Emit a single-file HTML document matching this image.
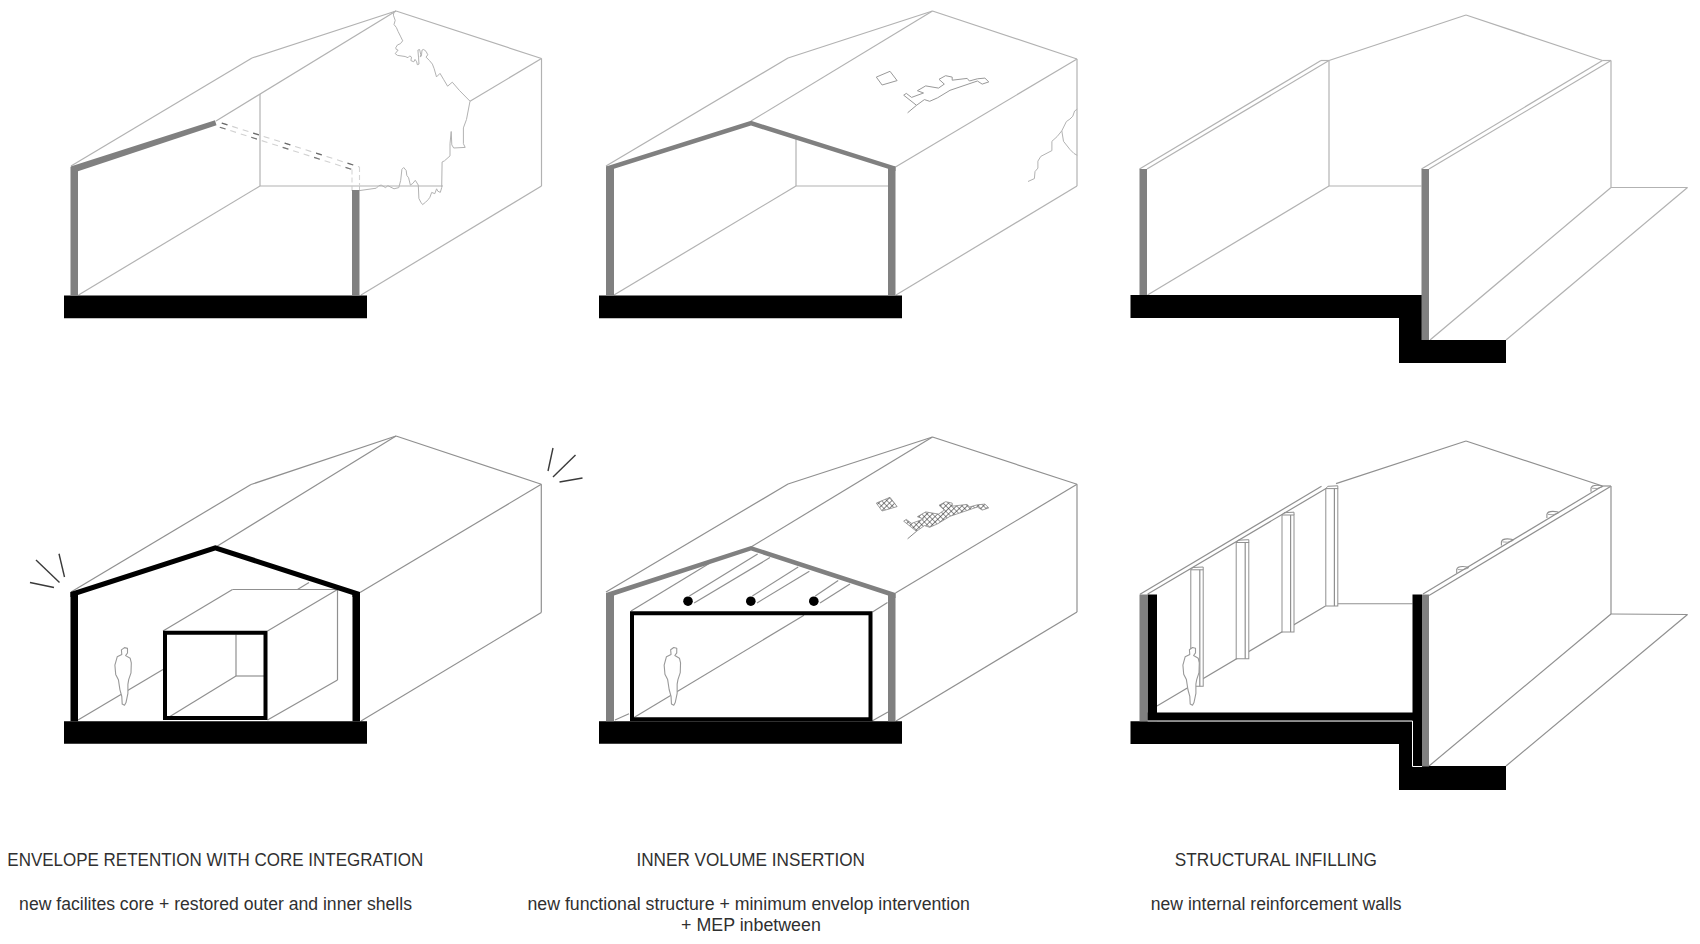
<!DOCTYPE html>
<html><head><meta charset="utf-8"><title>diagram</title>
<style>
html,body{margin:0;padding:0;background:#fff;width:1700px;height:944px;overflow:hidden}
svg{display:block}
.t{font-family:"Liberation Sans",sans-serif;font-size:17.5px;fill:#303030}
</style></head><body>
<svg width="1700" height="944" viewBox="0 0 1700 944">
<defs>
<pattern id="hatch" width="3.8" height="3.8" patternUnits="userSpaceOnUse" patternTransform="rotate(45)">
<path d="M0,0 L3.8,0 M0,0 L0,3.8" stroke="#2a2a2a" stroke-width="1.15" fill="none"/>
</pattern>
</defs>
<rect width="1700" height="944" fill="#fff"/>
<line x1="71" y1="166" x2="252" y2="58" stroke="#b2b2b2" stroke-width="1.2" />
<line x1="252" y1="58" x2="396" y2="11" stroke="#b2b2b2" stroke-width="1.2" />
<line x1="216" y1="121" x2="396" y2="11" stroke="#b2b2b2" stroke-width="1.2" />
<line x1="396" y1="11" x2="541.5" y2="58.5" stroke="#b2b2b2" stroke-width="1.2" />
<line x1="541.5" y1="58.5" x2="541.5" y2="186" stroke="#b2b2b2" stroke-width="1.2" />
<line x1="541.5" y1="186" x2="361" y2="295" stroke="#b2b2b2" stroke-width="1.2" />
<line x1="541.5" y1="58.5" x2="470" y2="101.25" stroke="#b2b2b2" stroke-width="1.2" />
<line x1="260" y1="94" x2="260" y2="186" stroke="#b2b2b2" stroke-width="1.2" />
<line x1="260" y1="186" x2="443" y2="186" stroke="#b2b2b2" stroke-width="1.2" />
<line x1="78.5" y1="295" x2="260" y2="186" stroke="#b2b2b2" stroke-width="1.2" />
<polyline points="396,11 394.0,11.7 393.4,15.2 395.2,20.4 394.0,24.5 396.3,27.4 398.1,31.5 400.4,36.1 402.7,40.8 400.4,43.7 397.5,44.9 395.7,47.8 396.3,49.5 398.1,50.1 395.2,53.6 397.5,55.4 401.0,55.9 405.1,56.5 408.0,57.7 409.7,55.9 411.5,57.1 410.9,60.6 413.8,61.8 415.0,59.4 416.7,61.8 417.3,64.7 419.0,64.1 418.5,57.1 417.9,50.1 419.6,49.5 420.8,54.8 420.2,57.1 421.4,55.9 422.0,50.1 423.7,49.5 426.0,51.3 427.8,54.8 426.0,57.1 429.5,60.6 432.4,64.1 434.2,68.8 436.5,76.9 440.0,73.4 443.5,79.3 447.6,86.2 452.3,82.2 459.3,90.3 470,101.2 466.5,119.4 463.4,127.9 463.4,143.7 465.2,147.4 453.7,148 451.8,144.9 451.2,131.5 450,143.7 450,155.9 444.5,160.8 442.1,162 441.7,187.6 440.3,192.4 437.8,191.2 436.6,188.8 434.8,193.7 431.7,192.4 429.9,197.3 428.1,199.7 425.6,202.2 422.6,204.6 420.8,202.2 418.9,198.5 418.3,185.1 415.3,180.3 412.9,183.3 410.4,185.1 408.6,177.8 406.8,175.4 406.2,170.5 403.7,167.5 401.9,169.3 400.7,180.3 398.8,187.6 394,188.8 387.9,185.7 385.5,187.6 381.2,185.1 378.8,185.7 376.3,188.2 359.3,190.6" fill="none" stroke="#b2b2b2" stroke-width="1.0" stroke-linejoin="round"/>
<line x1="217" y1="121.5" x2="359.5" y2="167" stroke="#cfcfcf" stroke-width="1.1" stroke-dasharray="6,5" stroke-dashoffset="-5"/>
<line x1="217" y1="121.5" x2="359.5" y2="167" stroke="#6a6a6a" stroke-width="1.3" stroke-dasharray="6,27" stroke-dashoffset="-5"/>
<line x1="216" y1="126" x2="352" y2="169.5" stroke="#d2d2d2" stroke-width="1.1" stroke-dasharray="6,5" stroke-dashoffset="-4"/>
<line x1="216" y1="126" x2="352" y2="169.5" stroke="#777" stroke-width="1.2" stroke-dasharray="6,27" stroke-dashoffset="-4"/>
<line x1="359.5" y1="167" x2="359.5" y2="186" stroke="#d5d5d5" stroke-width="1.1" stroke-dasharray="5,3"/>
<line x1="352" y1="169.5" x2="352" y2="186" stroke="#d5d5d5" stroke-width="1.1" stroke-dasharray="5,3"/>
<line x1="352" y1="186" x2="352" y2="191" stroke="#c8c8c8" stroke-width="1" />
<line x1="359.5" y1="186" x2="359.5" y2="191" stroke="#c8c8c8" stroke-width="1" />
<rect x="64" y="295.5" width="303" height="22.75" fill="#000"/>
<rect x="70.5" y="167" width="7.5" height="128.5" fill="#808080"/>
<rect x="352" y="190" width="7.5" height="105.5" fill="#808080"/>
<polygon points="70.5,166.5 215,120.3 216.5,125.3 78,171.2" fill="#808080"/>
<line x1="606" y1="166" x2="788" y2="58" stroke="#b2b2b2" stroke-width="1.2" />
<line x1="788" y1="58" x2="932.5" y2="11" stroke="#b2b2b2" stroke-width="1.2" />
<line x1="751" y1="121" x2="932.5" y2="11" stroke="#b2b2b2" stroke-width="1.2" />
<line x1="932.5" y1="11" x2="1077" y2="59" stroke="#b2b2b2" stroke-width="1.2" />
<line x1="1077" y1="59" x2="1077" y2="186" stroke="#b2b2b2" stroke-width="1.2" />
<line x1="1077" y1="186" x2="896" y2="295" stroke="#b2b2b2" stroke-width="1.2" />
<line x1="895.5" y1="167" x2="1077" y2="59" stroke="#b2b2b2" stroke-width="1.2" />
<line x1="796" y1="139" x2="796" y2="186" stroke="#b2b2b2" stroke-width="1.2" />
<line x1="796" y1="186" x2="888" y2="186" stroke="#b2b2b2" stroke-width="1.2" />
<line x1="614" y1="295" x2="796" y2="186" stroke="#b2b2b2" stroke-width="1.2" />
<polygon points="876.3,77.1 890,71.3 897.1,80.6 882.1,85" fill="none" stroke="#999" stroke-width="1" />
<polyline points="903.7,95.2 906.3,93.4 911.6,97.4 923.5,93 917.4,90.7 925.7,85.9 938.5,88.1 944.3,84.1 939,79.3 945.6,75.7 952.2,77.1 952.2,80.2 967.2,78.4 969.4,81 977.4,78.8 984.9,78.1 988.8,81.9 982.2,84.1 977.4,81 950,90.3 937.6,97.8 929.7,101.3 924.4,99.6 916.5,105.3 907.6,112.8" fill="none" stroke="#999" stroke-width="1" stroke-linejoin="round"/>
<line x1="903.7" y1="95.2" x2="916.5" y2="105.3" stroke="#999" stroke-width="1" />
<polyline points="1077.2,109.2 1074.6,111 1072.8,116.2 1069.9,119.1 1066.4,121.5 1061.8,130.8 1057.1,136.6 1051.9,141.3 1051.9,150.6 1040.8,156.4 1037.9,161.1 1037.9,168.1 1035,171.6 1034.4,178.6 1028,181.5" fill="none" stroke="#b2b2b2" stroke-width="1" stroke-linejoin="round"/>
<polyline points="1061.8,130.8 1063.5,141.3 1069.9,149.4 1074,153.5 1077.2,155.3" fill="none" stroke="#b2b2b2" stroke-width="1" />
<rect x="599" y="295.5" width="303" height="22.75" fill="#000"/>
<rect x="606" y="166.5" width="8" height="129" fill="#808080"/>
<rect x="888" y="166.5" width="7.5" height="129" fill="#808080"/>
<polygon points="606,166.5 751,120.8 895.5,166.5 895.5,171 888,171 888,168.8 751,125.6 614,168.8 614,171 606,171" fill="#808080"/>
<line x1="1139.5" y1="169" x2="1321" y2="60.5" stroke="#b2b2b2" stroke-width="1.2" />
<line x1="1147" y1="169" x2="1329" y2="60.5" stroke="#b2b2b2" stroke-width="1.2" />
<line x1="1321" y1="60.5" x2="1329" y2="60.5" stroke="#b2b2b2" stroke-width="1.2" />
<line x1="1329" y1="60.5" x2="1466" y2="15" stroke="#b2b2b2" stroke-width="1.2" />
<line x1="1466" y1="15" x2="1602.5" y2="60.5" stroke="#b2b2b2" stroke-width="1.2" />
<line x1="1602.5" y1="60.5" x2="1611" y2="60.5" stroke="#b2b2b2" stroke-width="1.2" />
<line x1="1421.5" y1="169" x2="1602.5" y2="60.5" stroke="#b2b2b2" stroke-width="1.2" />
<line x1="1429" y1="169" x2="1611" y2="60.5" stroke="#b2b2b2" stroke-width="1.2" />
<line x1="1329" y1="60.5" x2="1329" y2="186" stroke="#b2b2b2" stroke-width="1.2" />
<line x1="1329" y1="186" x2="1421.5" y2="186" stroke="#b2b2b2" stroke-width="1.2" />
<line x1="1147.5" y1="295" x2="1329" y2="186" stroke="#b2b2b2" stroke-width="1.2" />
<line x1="1611" y1="60.5" x2="1611" y2="187.5" stroke="#b2b2b2" stroke-width="1.2" />
<line x1="1611" y1="187.5" x2="1687.5" y2="187.5" stroke="#b2b2b2" stroke-width="1.2" />
<line x1="1611" y1="187.5" x2="1430" y2="340" stroke="#b2b2b2" stroke-width="1.2" />
<line x1="1687.5" y1="187.5" x2="1506" y2="340" stroke="#b2b2b2" stroke-width="1.2" />
<polygon points="1130.5,295 1422,295 1422,340 1506,340 1506,363 1399,363 1399,318 1130.5,318" fill="#000"/>
<rect x="1139.5" y="169" width="7.5" height="126" fill="#808080"/>
<rect x="1421.5" y="169" width="7.5" height="171" fill="#808080"/>
<line x1="71" y1="592" x2="251" y2="484.5" stroke="#909090" stroke-width="1.2" />
<line x1="251" y1="484.5" x2="396" y2="436" stroke="#909090" stroke-width="1.2" />
<line x1="215" y1="547.5" x2="396" y2="436" stroke="#909090" stroke-width="1.2" />
<line x1="396" y1="436" x2="541.3" y2="484.3" stroke="#909090" stroke-width="1.2" />
<line x1="360" y1="592.5" x2="541.3" y2="484.3" stroke="#909090" stroke-width="1.2" />
<line x1="541.3" y1="484.3" x2="541.3" y2="612.5" stroke="#909090" stroke-width="1.2" />
<line x1="541.3" y1="612.5" x2="361" y2="721" stroke="#909090" stroke-width="1.2" />
<line x1="78" y1="720" x2="163" y2="669.5" stroke="#909090" stroke-width="1.2" />
<line x1="163" y1="631" x2="232.5" y2="589.5" stroke="#909090" stroke-width="1.2" />
<line x1="232.5" y1="589.5" x2="337.5" y2="589.5" stroke="#909090" stroke-width="1.2" />
<line x1="337.5" y1="589.5" x2="267.5" y2="631" stroke="#909090" stroke-width="1.2" />
<line x1="337.5" y1="589.5" x2="337.5" y2="680" stroke="#909090" stroke-width="1.2" />
<line x1="267.5" y1="720" x2="337.5" y2="680" stroke="#909090" stroke-width="1.2" />
<line x1="236" y1="634.5" x2="236" y2="676" stroke="#909090" stroke-width="1.2" />
<line x1="236" y1="676" x2="264" y2="676" stroke="#909090" stroke-width="1.2" />
<line x1="236" y1="676" x2="167.5" y2="718" stroke="#909090" stroke-width="1.2" />
<line x1="297.5" y1="589.5" x2="309" y2="582.5" stroke="#909090" stroke-width="1.2" />
<rect x="165" y="632.75" width="100.5" height="85.25" fill="none" stroke="#000" stroke-width="4"/>
<polygon points="124.5,647.6 121.4,649.9 121.8,654.5 117.2,656.8 114.9,665.2 115.7,674.4 118.4,679.7 119.9,689.6 121.8,696.5 122.2,704.1 124.5,705.3 126.0,702.6 127.9,693.4 127.9,684.3 128.7,679.7 131.0,672.8 131.3,662.9 130.2,658.3 125.6,655.6 127.5,653.0 127.5,648.4" fill="#fff" stroke="#999999" stroke-width="1.1" stroke-linejoin="round"/>
<rect x="64" y="721.25" width="303" height="22.5" fill="#000"/>
<rect x="70.5" y="592" width="7.5" height="129.25" fill="#000"/>
<rect x="352.5" y="592.5" width="7.5" height="128.75" fill="#000"/>
<polygon points="70.5,592 215.3,545.2 360,592 360,597 352.5,597 352.5,594.9 215.3,550.5 78,594.9 78,597 70.5,597" fill="#000"/>
<line x1="36" y1="560" x2="59.5" y2="582.5" stroke="#3a3a3a" stroke-width="1.4" />
<line x1="59" y1="553.75" x2="64.5" y2="577" stroke="#3a3a3a" stroke-width="1.4" />
<line x1="30" y1="582.5" x2="54" y2="587.5" stroke="#3a3a3a" stroke-width="1.4" />
<line x1="553" y1="448" x2="548" y2="471" stroke="#3a3a3a" stroke-width="1.4" />
<line x1="575.5" y1="455" x2="553" y2="477" stroke="#3a3a3a" stroke-width="1.4" />
<line x1="582.5" y1="478" x2="559.5" y2="482" stroke="#3a3a3a" stroke-width="1.4" />
<line x1="606" y1="592" x2="788" y2="484" stroke="#909090" stroke-width="1.2" />
<line x1="788" y1="484" x2="932.5" y2="437" stroke="#909090" stroke-width="1.2" />
<line x1="751" y1="547" x2="932.5" y2="437" stroke="#909090" stroke-width="1.2" />
<line x1="932.5" y1="437" x2="1077" y2="484.3" stroke="#909090" stroke-width="1.2" />
<line x1="895.5" y1="593" x2="1077" y2="484.3" stroke="#909090" stroke-width="1.2" />
<line x1="1077" y1="484.3" x2="1077" y2="612" stroke="#909090" stroke-width="1.2" />
<line x1="1077" y1="612" x2="896" y2="721" stroke="#909090" stroke-width="1.2" />
<line x1="631" y1="611" x2="710" y2="563" stroke="#909090" stroke-width="1.2" />
<line x1="634" y1="717.5" x2="804" y2="615.3" stroke="#909090" stroke-width="1.2" />
<line x1="872.5" y1="612" x2="887.5" y2="602.5" stroke="#909090" stroke-width="1.2" />
<line x1="872" y1="721" x2="888" y2="712" stroke="#909090" stroke-width="1.2" />
<line x1="615" y1="720" x2="629" y2="713.75" stroke="#909090" stroke-width="1.2" />
<line x1="689.4" y1="595.9" x2="757.6" y2="554.1" stroke="#909090" stroke-width="1.2" />
<line x1="694.1" y1="602.9" x2="770" y2="557.6" stroke="#909090" stroke-width="1.2" />
<line x1="752.4" y1="595.9" x2="798.2" y2="567.1" stroke="#909090" stroke-width="1.2" />
<line x1="757" y1="602.9" x2="809.4" y2="571.2" stroke="#909090" stroke-width="1.2" />
<line x1="815.3" y1="595.9" x2="838.2" y2="580.6" stroke="#909090" stroke-width="1.2" />
<line x1="820" y1="602.9" x2="850" y2="584.1" stroke="#909090" stroke-width="1.2" />
<circle cx="688" cy="601.2" r="4.8" fill="#000"/>
<circle cx="750.8" cy="601.2" r="4.8" fill="#000"/>
<circle cx="813.8" cy="601.2" r="4.8" fill="#000"/>
<polygon points="876.3,503.1 890,497.3 897.1,506.6 882.1,511" fill="url(#hatch)" stroke="#888" stroke-width="0.8"/>
<polygon points="903.7,521.2 906.3,519.4 911.6,523.4 923.5,519 917.4,516.7 925.7,511.9 938.5,514.1 944.3,510.1 939,505.3 945.6,501.7 952.2,503.1 952.2,506.2 967.2,504.4 969.4,507 977.4,504.8 984.9,504.1 988.8,507.9 982.2,510.1 977.4,507 950,516.3 937.6,523.8 929.7,527.3 924.4,525.6 916.5,531.3" fill="url(#hatch)" stroke="#888" stroke-width="0.8"/>
<line x1="916.5" y1="531.3" x2="907.6" y2="538.8" stroke="#888" stroke-width="1" />
<polygon points="673.75,647.5 670.65,649.8 671.05,654.4 666.45,656.7 664.15,665.1 664.95,674.3 667.65,679.6 669.15,689.5 671.05,696.4 671.45,704.0 673.75,705.2 675.25,702.5 677.15,693.3 677.15,684.2 677.95,679.6 680.25,672.7 680.55,662.8 679.45,658.2 674.85,655.5 676.75,652.9 676.75,648.3" fill="#fff" stroke="#999999" stroke-width="1.1" stroke-linejoin="round"/>
<rect x="632" y="613.25" width="238.5" height="106" fill="none" stroke="#000" stroke-width="4"/>
<rect x="599" y="721.25" width="303" height="22.5" fill="#000"/>
<rect x="606" y="593" width="8" height="128.25" fill="#808080"/>
<rect x="888" y="593" width="7.5" height="128.25" fill="#808080"/>
<polygon points="606,593 751,546 895.5,593 895.5,598 888,598 888,595.5 751,550.6 614,595.5 614,598 606,598" fill="#808080"/>
<line x1="1140" y1="594.3" x2="1321.5" y2="486.3" stroke="#909090" stroke-width="1.2" />
<line x1="1147.7" y1="594" x2="1326" y2="488.5" stroke="#909090" stroke-width="1.2" />
<line x1="1336" y1="483.6" x2="1466" y2="441" stroke="#909090" stroke-width="1.2" />
<line x1="1466" y1="441" x2="1602.5" y2="486" stroke="#909090" stroke-width="1.2" />
<line x1="1602.5" y1="486" x2="1611" y2="486" stroke="#909090" stroke-width="1.2" />
<line x1="1423" y1="594" x2="1602.5" y2="486" stroke="#909090" stroke-width="1.2" />
<line x1="1429" y1="595.5" x2="1610.5" y2="486.5" stroke="#909090" stroke-width="1.2" />
<line x1="1611" y1="486" x2="1611" y2="614" stroke="#909090" stroke-width="1.2" />
<line x1="1611" y1="614" x2="1687.5" y2="614.5" stroke="#909090" stroke-width="1.2" />
<line x1="1611" y1="614" x2="1429" y2="766" stroke="#909090" stroke-width="1.2" />
<line x1="1687.5" y1="614.5" x2="1506" y2="766" stroke="#909090" stroke-width="1.2" />
<line x1="1337.5" y1="603.75" x2="1412.5" y2="603.75" stroke="#909090" stroke-width="1.2" />
<line x1="1157" y1="706" x2="1325.5" y2="606" stroke="#909090" stroke-width="1.2" />
<rect x="1190.8" y="569.8" width="12.400000000000091" height="116.45000000000005" fill="#fff" stroke="#909090" stroke-width="1"/>
<line x1="1199.8" y1="569.8" x2="1199.8" y2="686.25" stroke="#909090" stroke-width="1.2" />
<polyline points="1190.8,569.8 1192.8,567.5 1203.2,567.0 1203.2,569.8" fill="none" stroke="#909090" stroke-width="1.0" />
<rect x="1236.2" y="542.5" width="12.599999999999909" height="116.25" fill="#fff" stroke="#909090" stroke-width="1"/>
<line x1="1245.2" y1="542.5" x2="1245.2" y2="658.75" stroke="#909090" stroke-width="1.2" />
<polyline points="1236.2,542.5 1238.2,540.2 1248.8,539.7 1248.8,542.5" fill="none" stroke="#909090" stroke-width="1.0" />
<rect x="1282" y="515" width="12" height="117" fill="#fff" stroke="#909090" stroke-width="1"/>
<line x1="1290.6" y1="515" x2="1290.6" y2="632" stroke="#909090" stroke-width="1.2" />
<polyline points="1282,515 1284,512.7 1294,512.2 1294,515" fill="none" stroke="#909090" stroke-width="1.0" />
<rect x="1325.8" y="488.6" width="12.0" height="117.39999999999998" fill="#fff" stroke="#909090" stroke-width="1"/>
<line x1="1334.4" y1="488.6" x2="1334.4" y2="606" stroke="#909090" stroke-width="1.2" />
<polyline points="1325.8,488.6 1327.8,486.3 1337.8,485.8 1337.8,488.6" fill="none" stroke="#909090" stroke-width="1.0" />
<path d="M1456.7,573.0 L1456.7,569.5 Q1457.2,566.5 1462.7,566.5 Q1467.7,566.5 1468.7,568.0" fill="none" stroke="#909090" stroke-width="1.1"/>
<path d="M1457.7,569.5 Q1462.7,570.8 1468.2,568.2" fill="none" stroke="#909090" stroke-width="0.8"/>
<path d="M1501.4,545.4 L1501.4,541.9 Q1501.9,538.9 1507.4,538.9 Q1512.4,538.9 1513.4,540.4" fill="none" stroke="#909090" stroke-width="1.1"/>
<path d="M1502.4,541.9 Q1507.4,543.1999999999999 1512.9,540.6" fill="none" stroke="#909090" stroke-width="0.8"/>
<path d="M1546.9,517.9 L1546.9,514.4 Q1547.4,511.4 1552.9,511.4 Q1557.9,511.4 1558.9,512.9" fill="none" stroke="#909090" stroke-width="1.1"/>
<path d="M1547.9,514.4 Q1552.9,515.6999999999999 1558.4,513.1" fill="none" stroke="#909090" stroke-width="0.8"/>
<path d="M1591,491.7 L1591,488.2 Q1591.5,485.2 1597,485.2 Q1602,485.2 1603,486.7" fill="none" stroke="#909090" stroke-width="1.1"/>
<path d="M1592,488.2 Q1597,489.5 1602.5,486.9" fill="none" stroke="#909090" stroke-width="0.8"/>
<polygon points="1192.5,647.5 1189.4,649.8 1189.8,654.4 1185.2,656.7 1182.9,665.1 1183.7,674.3 1186.4,679.6 1187.9,689.5 1189.8,696.4 1190.2,704.0 1192.5,705.2 1194.0,702.5 1195.9,693.3 1195.9,684.2 1196.7,679.6 1199.0,672.7 1199.3,662.8 1198.2,658.2 1193.6,655.5 1195.5,652.9 1195.5,648.3" fill="#fff" stroke="#999999" stroke-width="1.1" stroke-linejoin="round"/>
<polygon points="1130.5,721.25 1422,721.25 1422,766 1506,766 1506,790 1399,790 1399,744 1130.5,744" fill="#000"/>
<rect x="1147.5" y="594.5" width="9.5" height="127" fill="#000"/>
<rect x="1147.5" y="712.5" width="275" height="9" fill="#000"/>
<rect x="1412.5" y="594.5" width="9.5" height="172" fill="#000"/>
<rect x="1139.5" y="594.5" width="8" height="126.75" fill="#808080"/>
<rect x="1422" y="594.5" width="7" height="172" fill="#808080"/>
<polyline points="1147.5,721 1412.5,721 1412.5,766.5 1422,766.5" fill="none" stroke="#fff" stroke-width="1" />


<text x="7.3" y="866" textLength="415.9" lengthAdjust="spacingAndGlyphs" class="t">ENVELOPE RETENTION WITH CORE INTEGRATION</text>
<text x="19.1" y="909.5" textLength="392.9" lengthAdjust="spacingAndGlyphs" class="t">new facilites core + restored outer and inner shells</text>
<text x="636.4" y="866" textLength="228.6" lengthAdjust="spacingAndGlyphs" class="t">INNER VOLUME INSERTION</text>
<text x="527.5" y="909.5" textLength="442.4" lengthAdjust="spacingAndGlyphs" class="t">new functional structure + minimum envelop intervention</text>
<text x="681.1" y="931" textLength="139.7" lengthAdjust="spacingAndGlyphs" class="t">+ MEP inbetween</text>
<text x="1174.8" y="866" textLength="202.1" lengthAdjust="spacingAndGlyphs" class="t">STRUCTURAL INFILLING</text>
<text x="1150.8" y="909.5" textLength="250.8" lengthAdjust="spacingAndGlyphs" class="t">new internal reinforcement walls</text>

</svg>
</body></html>
